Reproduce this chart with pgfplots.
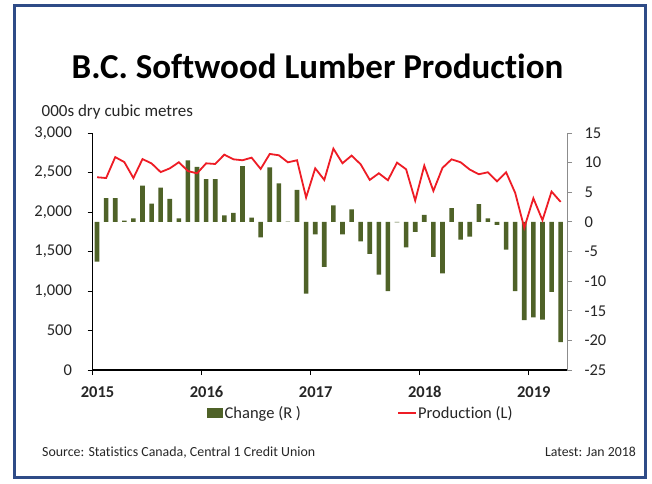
\documentclass[border=0pt]{standalone}
\usepackage{pgfplots}
\pgfplotsset{compat=1.18}
\usepackage{pgfplotstable}
\usepackage{fontspec}
\setmainfont{Carlito}[Ligatures=NoCommon]
\definecolor{olivebar}{HTML}{4F6228}
\definecolor{lred}{HTML}{EE1C25}
\definecolor{framec}{HTML}{2F4B87}
\definecolor{txt}{HTML}{262626}

\pgfplotstableread{
i chg
0.5 -6.7
1.5 4.0
2.5 4.0
3.5 0.2
4.5 0.6
5.5 6.1
6.5 3.1
7.5 5.8
8.5 3.9
9.5 0.6
10.5 10.4
11.5 9.3
12.5 7.2
13.5 7.2
14.5 1.1
15.5 1.5
16.5 9.4
17.5 0.7
18.5 -2.6
19.5 9.2
20.5 6.5
21.5 0.05
22.5 5.4
23.5 -12.1
24.5 -2.1
25.5 -7.6
26.5 2.8
27.5 -2.1
28.5 2.1
29.5 -3.3
30.5 -5.4
31.5 -8.9
32.5 -11.7
33.5 -0.1
34.5 -4.3
35.5 -1.7
36.5 1.2
37.5 -5.9
38.5 -8.7
39.5 2.3
40.5 -3.0
41.5 -2.5
42.5 3.0
43.5 0.6
44.5 -0.5
45.5 -4.7
46.5 -11.7
47.5 -16.6
48.5 -16.1
49.5 -16.5
50.5 -11.8
51.5 -20.3
}\chgtable

\pgfplotstableread{
i prod
0.5 2440
1.5 2430
2.5 2695
3.5 2632
4.5 2430
5.5 2670
6.5 2615
7.5 2505
8.5 2552
9.5 2630
10.5 2518
11.5 2489
12.5 2616
13.5 2608
14.5 2726
15.5 2667
16.5 2655
17.5 2688
18.5 2545
19.5 2735
20.5 2718
21.5 2629
22.5 2655
23.5 2183
24.5 2553
25.5 2406
26.5 2802
27.5 2617
28.5 2714
29.5 2604
30.5 2406
31.5 2490
32.5 2402
33.5 2625
34.5 2541
35.5 2145
36.5 2587
37.5 2267
38.5 2558
39.5 2667
40.5 2629
41.5 2537
42.5 2478
43.5 2503
44.5 2389
45.5 2503
46.5 2242
47.5 1799
48.5 2174
49.5 1896
50.5 2259
51.5 2128
}\prodtable

\begin{document}
\begin{tikzpicture}[x=1pt,y=1pt]
\useasboundingbox (0,0) rectangle (652,483);
\fill[white] (0,0) rectangle (652,483);
\draw[framec, line width=3pt] (14,5.5) rectangle (645.5,477);

\node[anchor=base, font=\fontsize{35}{40}\selectfont\bfseries, text=black] at (317.5,404) {B.C. Softwood Lumber Production};
\node[anchor=base west, font=\fontsize{17}{20}\selectfont, text=txt, inner sep=0pt] at (41.5,367) {000s dry cubic metres};

% bars, right axis
\begin{axis}[
  at={(92.5pt,113pt)}, anchor=south west, scale only axis,
  width=474.5pt, height=237pt,
  xmin=0, xmax=52.2, ymin=-25, ymax=15,
  axis x line=none, axis y line*=right,
  ytick={-25,-20,...,15},
  y axis line style={black!45, line width=1pt},
  ytick style={black!45, line width=1pt},
  tick align=outside, major tick length=5pt,
  yticklabel style={font=\fontsize{16.5}{18}\selectfont, text=txt},
  yticklabel shift=9pt,
  /pgf/number format/assume math mode=true,
]
\addplot[ybar, bar width=4.6pt, fill=olivebar, draw=none] table[x=i, y=chg] {\chgtable};
\end{axis}

% line, left axis
\begin{axis}[
  at={(92.5pt,113pt)}, anchor=south west, scale only axis,
  width=474.5pt, height=237pt,
  xmin=0, xmax=52.2, ymin=0, ymax=3000,
  axis x line*=bottom, axis y line*=left,
  ytick={0,500,...,3000},
  xtick={0,12,24,36,48},
  xticklabels={2015,2016,2017,2018,2019},
  x axis line style={black, line width=2.5pt},
  y axis line style={black, line width=1.6pt},
  tick style={black, line width=1pt},
  tick align=outside, major tick length=5pt,
  yticklabel style={font=\fontsize{16.5}{18}\selectfont, text=txt},
  xticklabel style={font=\fontsize{16.5}{18}\selectfont\bfseries, text=txt, xshift=5pt},
  yticklabel shift=12pt,
  xticklabel shift=8pt,
  /pgf/number format/assume math mode=true,
  /pgf/number format/1000 sep={,},
]
\addplot[lred, line width=1.8pt] table[x=i, y=prod] {\prodtable};
\end{axis}

% legend
\fill[olivebar] (207.3,64.7) rectangle (223.3,74.7);
\node[anchor=base west, font=\fontsize{16.5}{18}\selectfont, text=txt, inner sep=0pt] at (224.5,65) {Change (R )};
\draw[lred, line width=1.8pt] (398.3,69.7) -- (415.7,69.7);
\node[anchor=base west, font=\fontsize{16.5}{18}\selectfont, text=txt, inner sep=0pt] at (418,65) {Production (L)};

% footer
\node[anchor=base west, font=\fontsize{13.9}{15}\selectfont, text=txt, inner sep=0pt] at (42,27) {Source: Statistics Canada, Central 1 Credit Union};
\node[anchor=base east, font=\fontsize{13.8}{15}\selectfont, text=txt, inner sep=0pt] at (636,27) {Latest: Jan 2018};
\end{tikzpicture}
\end{document}
